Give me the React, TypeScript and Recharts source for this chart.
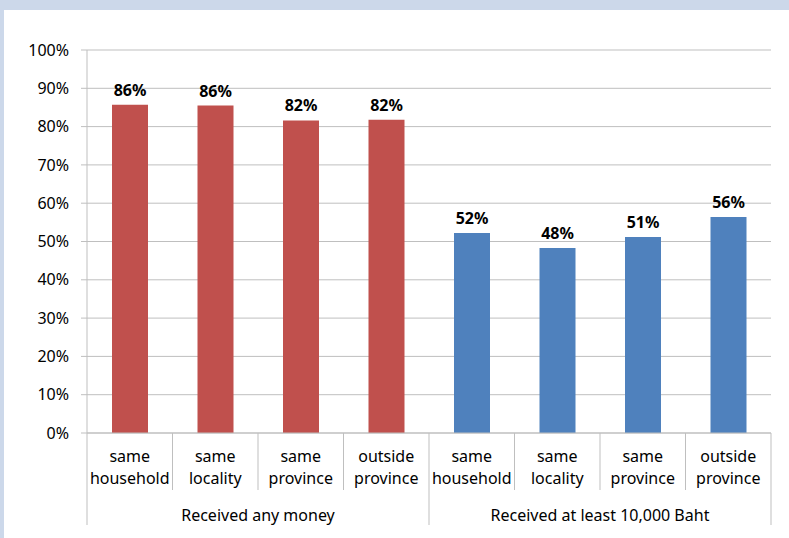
import { BarChart, Bar, XAxis, YAxis, CartesianGrid, Cell, LabelList } from "recharts";

const categoryTop = ["same", "same", "same", "outside", "same", "same", "same", "outside"];
const categoryBottom = ["household", "locality", "province", "province", "household", "locality", "province", "province"];
const groups = ["Received any money", "Received at least 10,000 Baht"];
const anyMoney = [85.7, 85.5, 81.6, 81.8];
const atLeast10k = [52.2, 48.3, 51.2, 56.4];
const groupColors = ["#C0504D", "#4F81BD"];
const yTicks = [0, 10, 20, 30, 40, 50, 60, 70, 80, 90, 100];

const perGroup = anyMoney.length;
const data = [...anyMoney, ...atLeast10k].map((value, i) => ({
  key: `c${i}`,
  top: categoryTop[i],
  bottom: categoryBottom[i],
  group: Math.floor(i / perGroup),
  value,
}));

const FONT = "'Noto Sans', 'Open Sans', sans-serif";
const AXIS = "#BFBFBF";

function CategoryTick(props: any) {
  const { x, y, payload, index } = props;
  const i = payload?.index ?? index;
  const half = payload?.offset || 42.75;
  const d = data[i];
  if (!d) return null;
  const left = x - half;
  const right = x + half;
  const groupStart = i % perGroup === 0;
  const last = i === data.length - 1;
  return (
    <g>
      <line x1={left} x2={left} y1={y} y2={y + (groupStart ? 92 : 57)} stroke={AXIS} />
      {last && <line x1={right} x2={right} y1={y} y2={y + 92} stroke={AXIS} />}
      <text x={x} y={y + 29} textAnchor="middle" fontSize={16} fill="#000" fontFamily={FONT}>
        {d.top}
      </text>
      <text x={x} y={y + 51} textAnchor="middle" fontSize={16} fill="#000" fontFamily={FONT}>
        {d.bottom}
      </text>
      {i % perGroup === 1 && (
        <text x={right} y={y + 88} textAnchor="middle" fontSize={16} fill="#000" fontFamily={FONT}>
          {groups[d.group]}
        </text>
      )}
    </g>
  );
}

export default function App() {
  return (
    <div
      style={{
        position: "absolute",
        left: 0,
        top: 0,
        width: 789,
        height: 538,
        background: "#CCD8EA",
      }}
    >
      <div style={{ position: "absolute", left: 4, top: 10, width: 785, height: 528, background: "#fff" }}>
        <BarChart
          width={785}
          height={528}
          data={data}
          margin={{ top: 40, right: 18, left: 23, bottom: 5 }}
          barSize={36}
        >
          <CartesianGrid vertical={false} stroke={AXIS} />
          <XAxis
            dataKey="key"
            height={100}
            interval={0}
            tickLine={false}
            tickSize={0}
            tickMargin={0}
            axisLine={{ stroke: AXIS }}
            tick={<CategoryTick />}
          />
          <YAxis
            width={60}
            domain={[0, 100]}
            ticks={yTicks}
            interval={0}
            tickFormatter={(v: number) => `${v}%`}
            tickSize={6}
            tickMargin={12}
            tickLine={{ stroke: AXIS }}
            axisLine={{ stroke: AXIS }}
            tick={{ fill: "#000", fontSize: 16, fontFamily: FONT }}
          />
          <Bar dataKey="value" isAnimationActive={false}>
            {data.map((d) => (
              <Cell key={d.key} fill={groupColors[d.group]} />
            ))}
            <LabelList
              dataKey="value"
              position="top"
              offset={9}
              formatter={(v: any) => `${Math.round(Number(v))}%`}
              style={{ fill: "#000", fontSize: 16, fontWeight: 700, fontFamily: FONT }}
            />
          </Bar>
        </BarChart>
      </div>
    </div>
  );
}
